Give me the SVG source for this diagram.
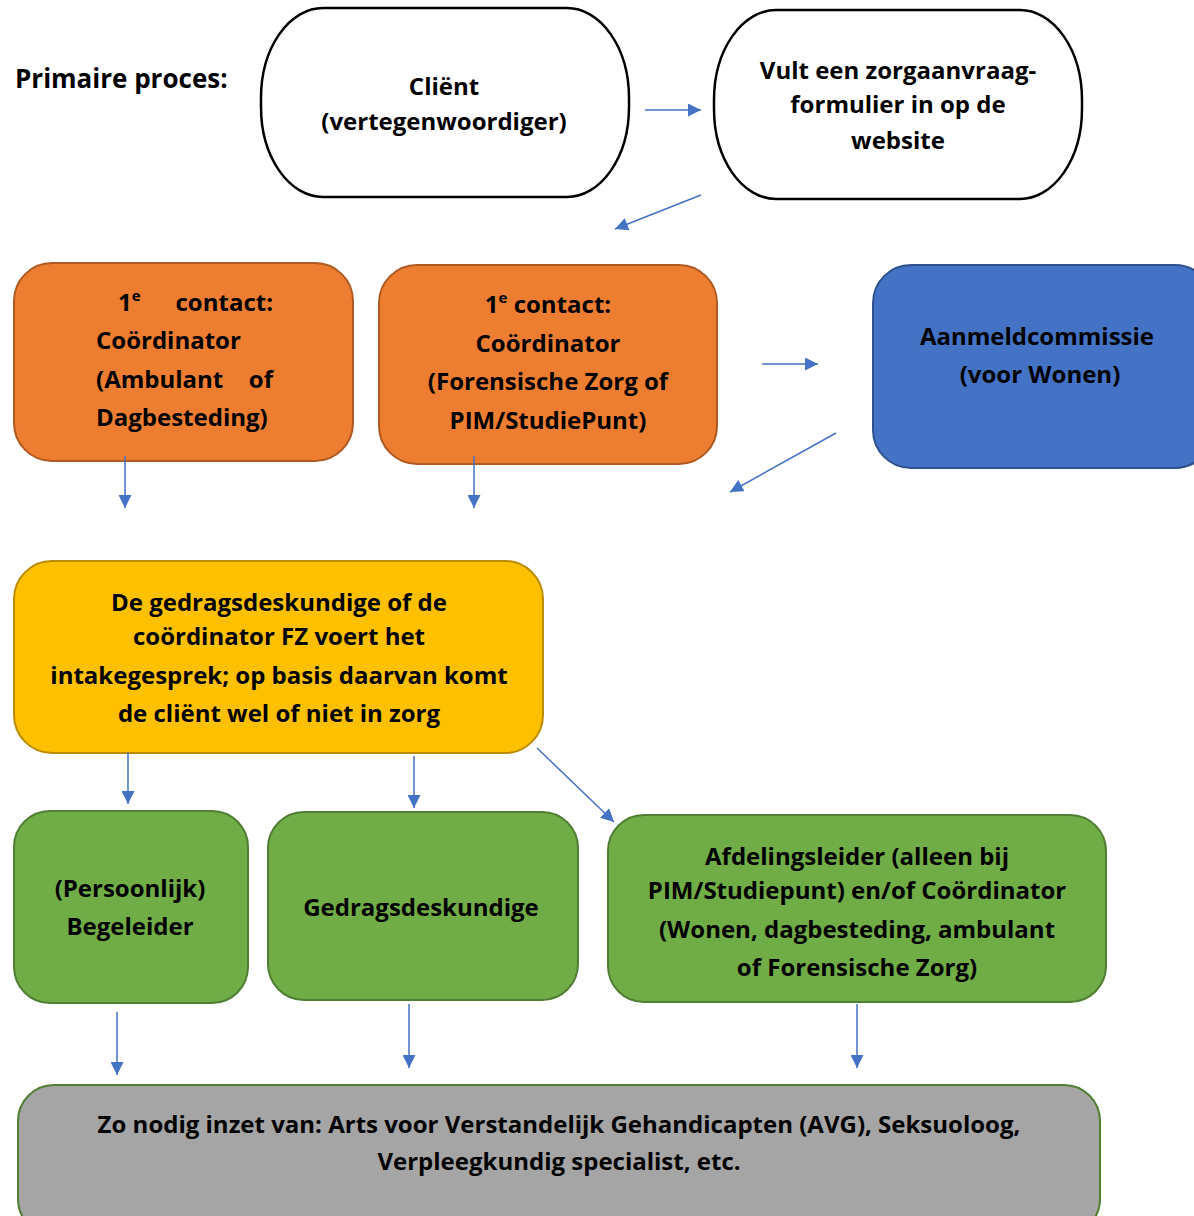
<svg xmlns="http://www.w3.org/2000/svg" width="1194" height="1216" viewBox="0 0 1194 1216">
<style>
text{font-family:"Open Sans","Liberation Sans",sans-serif;font-weight:bold;font-size:24px;fill:#000}
.c{text-anchor:middle}
.w{fill:#fff;stroke:#000;stroke-width:2.5}
.o{fill:#ED7D31;stroke:#AE5A21;stroke-width:2}
.b{fill:#4472C4;stroke:#2F528F;stroke-width:2}
.y{fill:#FFC000;stroke:#BC8C00;stroke-width:2}
.g{fill:#70AD47;stroke:#507E32;stroke-width:2}
.gr{fill:#A5A5A5;stroke:#507E32;stroke-width:2}
.a{stroke:#4472C4;stroke-width:1.5;fill:none;marker-end:url(#ah)}
</style>
<defs>
<marker id="ah" viewBox="0 0 10 10" refX="10" refY="5" markerWidth="15" markerHeight="13" markerUnits="userSpaceOnUse" orient="auto">
<path d="M0,0L10,5L0,10z" fill="#4472C4"/>
</marker>
</defs>
<rect width="1194" height="1216" fill="#fff"/>
<text x="15" y="88" font-size="26" style="font-size:26px">Primaire proces:</text>

<g id="client">
<rect class="w" x="261" y="8" width="368" height="189" rx="62" ry="90"/>
<text class="c" x="444" y="95">Cliënt</text>
<text class="c" x="444" y="130">(vertegenwoordiger)</text>
</g>
<g id="formulier">
<rect class="w" x="714" y="10" width="368" height="189" rx="62" ry="90"/>
<text class="c" x="898" y="79">Vult een zorgaanvraag-</text>
<text class="c" x="898" y="113">formulier in op de</text>
<text class="c" x="898" y="149">website</text>
</g>
<g id="contact1">
<rect class="o" x="14" y="263" width="339" height="198" rx="38"/>
<text x="118" y="311">1<tspan style="font-size:15px" dy="-10">e</tspan></text>
<text x="273" y="311" text-anchor="end">contact:</text>
<text x="96" y="349">Coördinator</text>
<text x="96" y="388">(Ambulant</text>
<text x="273" y="388" text-anchor="end">of</text>
<text x="96" y="426">Dagbesteding)</text>
</g>
<g id="contact2">
<rect class="o" x="379" y="265" width="338" height="199" rx="38"/>
<text class="c" x="548" y="313">1<tspan style="font-size:15px" dy="-10">e</tspan><tspan dy="10"> contact:</tspan></text>
<text class="c" x="548" y="352">Coördinator</text>
<text class="c" x="548" y="390">(Forensische Zorg of</text>
<text class="c" x="548" y="429">PIM/StudiePunt)</text>
</g>
<g id="aanmeld">
<rect class="b" x="873" y="265" width="340" height="203" rx="38"/>
<text class="c" x="1037" y="345">Aanmeldcommissie</text>
<text class="c" x="1040" y="383">(voor Wonen)</text>
</g>
<g id="intake">
<rect class="y" x="14" y="561" width="529" height="192" rx="38"/>
<text class="c" x="279" y="611">De gedragsdeskundige of de</text>
<text class="c" x="279" y="645">coördinator FZ voert het</text>
<text class="c" x="279" y="684">intakegesprek; op basis daarvan komt</text>
<text class="c" x="279" y="722">de cliënt wel of niet in zorg</text>
</g>
<g id="begeleider">
<rect class="g" x="14" y="811" width="234" height="192" rx="36"/>
<text class="c" x="130" y="897">(Persoonlijk)</text>
<text class="c" x="130" y="935">Begeleider</text>
</g>
<g id="gedragsdeskundige">
<rect class="g" x="268" y="812" width="310" height="188" rx="36"/>
<text class="c" x="421" y="916">Gedragsdeskundige</text>
</g>
<g id="afdelingsleider">
<rect class="g" x="608" y="815" width="498" height="187" rx="36"/>
<text class="c" x="857" y="865">Afdelingsleider (alleen bij</text>
<text class="c" x="857" y="899">PIM/Studiepunt) en/of Coördinator</text>
<text class="c" x="857" y="938">(Wonen, dagbesteding, ambulant</text>
<text class="c" x="857" y="976">of Forensische Zorg)</text>
</g>
<g id="inzet">
<rect class="gr" x="18" y="1085" width="1082" height="150" rx="36"/>
<text class="c" x="559" y="1133">Zo nodig inzet van: Arts voor Verstandelijk Gehandicapten (AVG), Seksuoloog,</text>
<text class="c" x="559" y="1170">Verpleegkundig specialist, etc.</text>
</g>

<g id="connectors">
<line class="a" x1="645" y1="110" x2="701" y2="110"/>
<line class="a" x1="701" y1="195" x2="615" y2="229"/>
<line class="a" x1="762" y1="364" x2="818" y2="364"/>
<line class="a" x1="836" y1="433" x2="730" y2="492"/>
<line class="a" x1="125" y1="456" x2="125" y2="508"/>
<line class="a" x1="474" y1="456" x2="474" y2="508"/>
<line class="a" x1="128" y1="752" x2="128" y2="804"/>
<line class="a" x1="414" y1="756" x2="414" y2="808"/>
<line class="a" x1="537" y1="748" x2="614" y2="822"/>
<line class="a" x1="117" y1="1012" x2="117" y2="1075"/>
<line class="a" x1="409" y1="1004" x2="409" y2="1068"/>
<line class="a" x1="857" y1="1004" x2="857" y2="1068"/>
</g>
</svg>
